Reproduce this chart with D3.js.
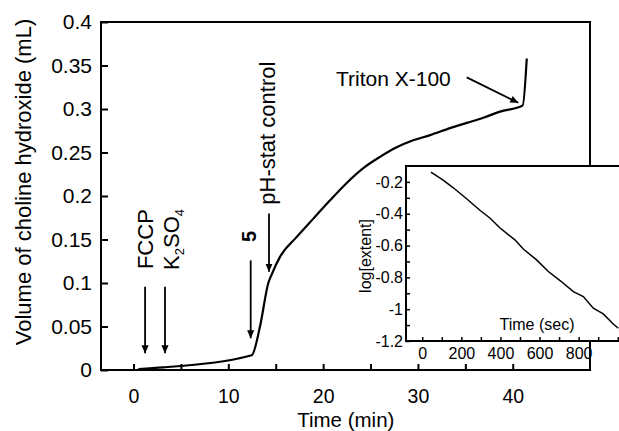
<!DOCTYPE html>
<html><head><meta charset="utf-8">
<script src="https://cdn.jsdelivr.net/npm/d3@7"></script>
<style>
html,body{margin:0;padding:0;background:#fff;}
svg{display:block;font-family:"Liberation Sans",Arial,Helvetica,sans-serif;}
</style></head>
<body>
<svg id="c" width="619" height="431"></svg>
<script>
// ---- Main chart data ----
const timeMin = [0.51, 3.14, 12.47, 13.34, 14.22, 14.58, 15.45, 17.22, 18.97, 20.73, 22.49, 24.24, 26.0, 27.76, 29.5, 31.28, 33.4, 35.15, 36.9, 38.66, 41.05, 41.48];
const volume  = [0.001, 0.003, 0.017, 0.050, 0.100, 0.110, 0.130, 0.153, 0.174, 0.195, 0.215, 0.232, 0.245, 0.256, 0.264, 0.270, 0.278, 0.284, 0.290, 0.297, 0.304, 0.358];
const xTickVals = [0, 5, 10, 15, 20, 25, 30, 35, 40];
const xTickLabels = ["0", "", "10", "", "20", "", "30", "", "40"];
const yTickVals = [0, 0.05, 0.1, 0.15, 0.2, 0.25, 0.3, 0.35, 0.4];
const yTickLabels = ["0", "0.05", "0.1", "0.15", "0.2", "0.25", "0.3", "0.35", "0.4"];

// ---- Inset data ----
const insetTime = [44.5, 107, 159, 227, 295, 346, 398, 474, 517, 585, 645, 705, 773, 824, 875, 926, 977, 1003];
const insetLog  = [-0.138, -0.189, -0.237, -0.306, -0.378, -0.427, -0.490, -0.564, -0.622, -0.690, -0.763, -0.820, -0.890, -0.921, -0.994, -1.030, -1.093, -1.120];
const insetXTickVals = [0, 100, 200, 300, 400, 500, 600, 700, 800, 900, 1000];
const insetXTickLabels = ["0", "", "200", "", "400", "", "600", "", "800", "", ""];
const insetYTickVals = [-1.2, -1.1, -1.0, -0.9, -0.8, -0.7, -0.6, -0.5, -0.4, -0.3, -0.2];
const insetYTickLabels = ["-1.2", "", "-1", "", "-0.8", "", "-0.6", "", "-0.4", "", "-0.2"];

// ---- Annotations (data units) ----
const vArrowLabels = ["FCCP", "K2SO4", "5", "pH-stat control"];
const vArrowX      = [1.22, 3.32, 12.36, 14.29];
const vArrowFrom   = [0.0957, 0.0957, 0.126, 0.180];
const vArrowTo     = [0.0192, 0.0192, 0.0364, 0.113];
const vLabelX      = [1.22, 3.96, 12.2, 14.1];
const vLabelY      = [0.116, 0.115, 0.147, 0.190];
const tritonLabel = "Triton X-100";
const tritonText = [21.36, 0.3264];
const tritonArrow = [[35.15, 0.3364], [40.59, 0.3072]];

const svg = d3.select("#c");
const font = '"Liberation Sans",Arial,Helvetica,sans-serif';

svg.append("defs").append("marker")
  .attr("id", "ah").attr("viewBox", "0 0 10 10").attr("refX", 10).attr("refY", 5)
  .attr("markerWidth", 8).attr("markerHeight", 8).attr("markerUnits", "userSpaceOnUse")
  .attr("orient", "auto")
  .append("path").attr("d", "M0,0.5 L10,5 L0,9.5 Z").attr("fill", "#000");

// ---- Main scales ----
const L = 101, R = 590, T = 22, B = 370;
const x = d3.scaleLinear().domain([-3.43, 48.15]).range([L, R]);
const y = d3.scaleLinear().domain([0, 0.4]).range([B, T]);

const gx = svg.append("g").attr("transform", `translate(0,${B})`)
  .call(d3.axisBottom(x).tickValues(xTickVals).tickSizeInner(-6).tickSizeOuter(0).tickPadding(19.5)
    .tickFormat((d, i) => xTickLabels[i]));
gx.select(".domain").remove();
gx.selectAll("text").attr("font-size", 19.5).attr("font-family", font).attr("fill", "#000");
gx.selectAll("line").attr("stroke-width", 2);

const gy = svg.append("g").attr("transform", `translate(${L},0)`)
  .call(d3.axisLeft(y).tickValues(yTickVals).tickSizeInner(-7).tickSizeOuter(0).tickPadding(9)
    .tickFormat((d, i) => yTickLabels[i]));
gy.select(".domain").remove();
gy.selectAll("text").attr("font-size", 21).attr("font-family", font).attr("fill", "#000");
gy.selectAll("line").attr("stroke-width", 2);

svg.append("rect").attr("x", L).attr("y", T).attr("width", R - L).attr("height", B - T)
  .attr("fill", "none").attr("stroke", "#000").attr("stroke-width", 2);

svg.append("text").attr("x", (x(20)+x(25))/2 - 1).attr("y", 426.5).attr("text-anchor", "middle")
  .attr("font-size", 20.5).attr("font-family", font).text("Time (min)");
svg.append("text").attr("transform", "translate(31,182) rotate(-90)").attr("text-anchor", "middle")
  .attr("font-size", 22).attr("font-family", font).text("Volume of choline hydroxide (mL)");

const line = d3.line().curve(d3.curveMonotoneX).x((d, i) => x(timeMin[i])).y((d, i) => y(volume[i]));
svg.append("path").datum(volume).attr("d", line).attr("fill", "none")
  .attr("stroke", "#000").attr("stroke-width", 2.2).attr("stroke-linejoin", "round");

vArrowX.forEach((vx, i) => {
  svg.append("line").attr("x1", x(vx)).attr("x2", x(vx)).attr("y1", y(vArrowFrom[i])).attr("y2", y(vArrowTo[i]))
    .attr("stroke", "#000").attr("stroke-width", 1.8).attr("marker-end", "url(#ah)");
});
vArrowLabels.forEach((lab, i) => {
  const t = svg.append("text")
    .attr("transform", `translate(${x(vLabelX[i])},${y(vLabelY[i])}) rotate(-90)`)
    .attr("dy", "0.36em").attr("font-size", i === 2 ? 20 : 22).attr("font-family", font)
    .attr("font-weight", i === 2 ? "bold" : "normal");
  if (lab === "K2SO4") {
    t.append("tspan").text("K");
    t.append("tspan").attr("font-size", 13).attr("dy", 5).text("2");
    t.append("tspan").attr("dy", -5).text("SO");
    t.append("tspan").attr("font-size", 13).attr("dy", 5).text("4");
  } else {
    t.text(lab);
  }
});
svg.append("text").attr("x", x(tritonText[0])).attr("y", y(tritonText[1]))
  .attr("font-size", 21).attr("font-family", font).text(tritonLabel);
svg.append("line").attr("x1", x(tritonArrow[0][0])).attr("y1", y(tritonArrow[0][1]))
  .attr("x2", x(tritonArrow[1][0])).attr("y2", y(tritonArrow[1][1]))
  .attr("stroke", "#000").attr("stroke-width", 1.8).attr("marker-end", "url(#ah)");

// ---- Inset ----
const iL = 406, iT = 166, iB = 341, iR = 624;
const ix = d3.scaleLinear().domain([-83, 1032]).range([iL, iR]);
const iy = d3.scaleLinear().domain([-1.2, -0.1]).range([iB, iT]);

svg.append("rect").attr("x", iL).attr("y", iT).attr("width", iR - iL).attr("height", iB - iT)
  .attr("fill", "#fff").attr("stroke", "#000").attr("stroke-width", 2);

const igx = svg.append("g").attr("transform", `translate(0,${iB})`)
  .call(d3.axisBottom(ix).tickValues(insetXTickVals).tickSizeInner(-4).tickSizeOuter(0).tickPadding(7)
    .tickFormat((d, i) => insetXTickLabels[i]));
igx.select(".domain").remove();
igx.selectAll("text").attr("font-size", 16).attr("font-family", font).attr("fill", "#000");
igx.selectAll("line").attr("stroke-width", 1.5);

const igy = svg.append("g").attr("transform", `translate(${iL},0)`)
  .call(d3.axisLeft(iy).tickValues(insetYTickVals).tickSizeInner(-4).tickSizeOuter(0).tickPadding(3)
    .tickFormat((d, i) => insetYTickLabels[i]));
igy.select(".domain").remove();
igy.selectAll("text").attr("font-size", 16).attr("font-family", font).attr("fill", "#000");
igy.selectAll("line").attr("stroke-width", 1.5);

const iline = d3.line().x((d, i) => ix(insetTime[i])).y((d, i) => iy(insetLog[i]));
svg.append("path").datum(insetLog).attr("d", iline).attr("fill", "none")
  .attr("stroke", "#000").attr("stroke-width", 1.5);

svg.append("text").attr("x", 537).attr("y", 330).attr("text-anchor", "middle")
  .attr("font-size", 16).attr("font-family", font).text("Time (sec)");
svg.append("text").attr("transform", "translate(365,256) rotate(-90)").attr("dy", "0.35em")
  .attr("text-anchor", "middle").attr("font-size", 16).attr("font-family", font).text("log[extent]");
</script>
</body></html>
